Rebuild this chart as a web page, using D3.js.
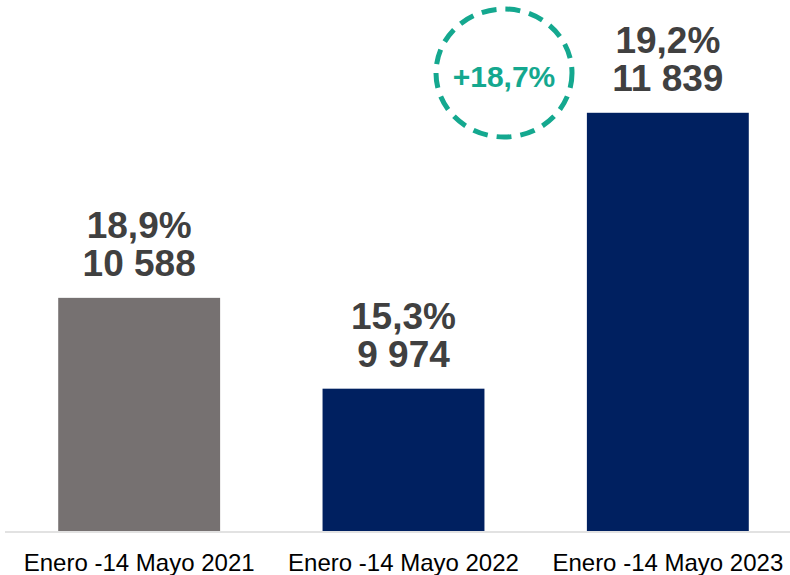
<!DOCTYPE html>
<html>
<head>
<meta charset="utf-8">
<script src="https://cdn.jsdelivr.net/npm/d3@7"></script>
<style>
  html, body { margin: 0; padding: 0; background: #ffffff; }
  svg { display: block; }
</style>
</head>
<body>
<svg id="chart" width="790" height="575"></svg>
<script>
// Data
const categories = ["Enero -14 Mayo 2021", "Enero -14 Mayo 2022", "Enero -14 Mayo 2023"];
const values = [10588, 9974, 11839];
const shares = ["18,9%", "15,3%", "19,2%"];
const barColors = ["#767171", "#002060", "#002060"];
const growthLabel = "+18,7%";

const width = 790, height = 575;
const baseline = 531;

const svg = d3.select("#chart");

const x = d3.scaleBand()
  .domain(categories)
  .range([7, 800])
  .paddingInner(0.3875)
  .paddingOuter(0.19375);

const y = d3.scaleLinear()
  .domain([9012, 12500])
  .range([baseline, 15]);

const fmt = d3.formatLocale({ decimal: ",", thousands: " ", grouping: [3], currency: ["", ""] }).format(",d");

// Bars
svg.selectAll("rect.bar")
  .data(values)
  .join("rect")
  .attr("class", "bar")
  .attr("x", (d, i) => x(categories[i]))
  .attr("y", d => y(d))
  .attr("width", x.bandwidth())
  .attr("height", d => baseline - y(d))
  .attr("fill", (d, i) => barColors[i]);

// Baseline axis
const axis = svg.append("g")
  .attr("transform", `translate(0,${baseline + 1})`)
  .call(d3.axisBottom(x).tickSize(0).tickPadding(0));
axis.select(".domain").remove();
svg.append("line")
  .attr("x1", 5).attr("x2", 790)
  .attr("y1", baseline + 1).attr("y2", baseline + 1)
  .attr("stroke", "#d9d9d9").attr("stroke-width", 1.5);
axis.selectAll(".tick text")
  .attr("y", 39)
  .attr("dy", 0)
  .attr("font-family", "Liberation Sans, Arial, sans-serif")
  .attr("font-size", 24)
  .attr("fill", "#000000");

// Value labels: share on the first line, count on the second
const labels = svg.selectAll("g.vlabel")
  .data(values)
  .join("g")
  .attr("class", "vlabel")
  .attr("transform", (d, i) => `translate(${x(categories[i]) + x.bandwidth() / 2},${y(d)})`)
  .attr("font-family", "Liberation Sans, Arial, sans-serif")
  .attr("font-weight", "bold")
  .attr("font-size", 37)
  .attr("fill", "#404040")
  .attr("text-anchor", "middle");
labels.append("text").attr("y", -60).text((d, i) => shares[i]);
labels.append("text").attr("y", -22).text(d => fmt(d));

// Growth badge
const badge = svg.append("g").attr("transform", "translate(504,73)");
badge.append("ellipse")
  .attr("rx", 68).attr("ry", 64)
  .attr("fill", "none")
  .attr("stroke", "#14a88f")
  .attr("stroke-width", 5)
  .attr("stroke-dasharray", "15 9");
badge.append("text")
  .attr("y", 14)
  .attr("text-anchor", "middle")
  .attr("font-family", "Liberation Sans, Arial, sans-serif")
  .attr("font-weight", "bold")
  .attr("font-size", 30)
  .attr("fill", "#14a88f")
  .text(growthLabel);
</script>
</body>
</html>
